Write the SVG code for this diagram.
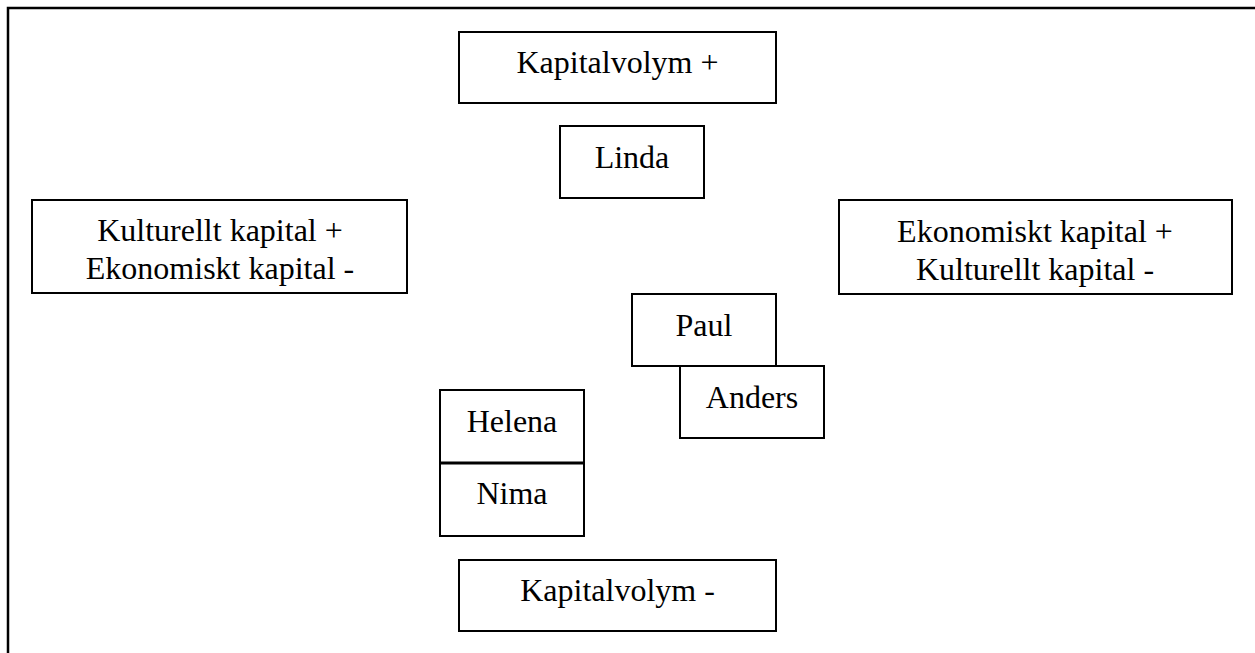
<svg xmlns="http://www.w3.org/2000/svg" width="1255" height="653" viewBox="0 0 1255 653">
<style>
.box{fill:#fff;stroke:#000;stroke-width:2}
.t{font-family:"Liberation Serif","Times New Roman",serif;font-size:32px;fill:#000;text-anchor:middle}
</style>
<rect width="1255" height="653" fill="#fff"/>
<g id="frame"><path d="M8 653 V8 H1255" fill="none" stroke="#000" stroke-width="2.5"/></g>
<g id="connectors"></g>
<g id="kapitalvolym-plus"><rect class="box" x="459" y="32" width="317" height="71"/><text class="t" x="617.5" y="73">Kapitalvolym +</text></g>
<g id="linda"><rect class="box" x="560" y="126" width="144" height="72"/><text class="t" x="632" y="168">Linda</text></g>
<g id="kultur-plus"><rect class="box" x="32" y="200" width="375" height="93"/><text class="t" x="220" y="241">Kulturellt kapital +</text><text class="t" x="220" y="279">Ekonomiskt kapital -</text></g>
<g id="ekonomi-plus"><rect class="box" x="839" y="200" width="393" height="94"/><text class="t" x="1035" y="242">Ekonomiskt kapital +</text><text class="t" x="1035" y="280">Kulturellt kapital -</text></g>
<g id="paul"><rect class="box" x="632" y="294" width="144" height="72"/><text class="t" x="704" y="336">Paul</text></g>
<g id="anders"><rect class="box" x="680" y="366" width="144" height="72"/><text class="t" x="752" y="408">Anders</text></g>
<g id="helena"><rect class="box" x="440" y="390" width="144" height="73"/><text class="t" x="512" y="432">Helena</text></g>
<g id="nima"><rect class="box" x="440" y="463" width="144" height="73"/><line x1="440" y1="463" x2="584" y2="463" stroke="#000" stroke-width="3"/><text class="t" x="512" y="504">Nima</text></g>
<g id="kapitalvolym-minus"><rect class="box" x="459" y="560" width="317" height="71"/><text class="t" x="617.5" y="601">Kapitalvolym -</text></g>
</svg>
